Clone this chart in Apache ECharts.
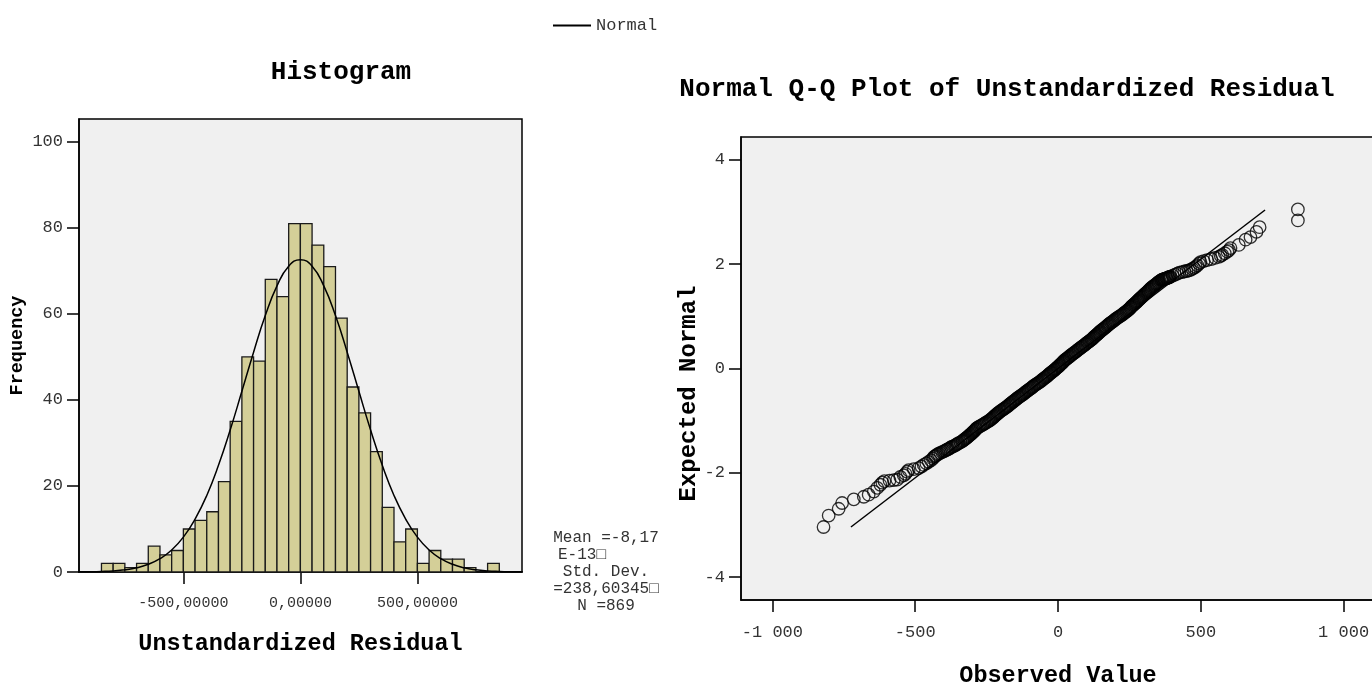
<!DOCTYPE html>
<html>
<head>
<meta charset="utf-8">
<script src="https://cdn.jsdelivr.net/npm/echarts@6/dist/echarts.min.js"></script>
<style>
  html, body { margin: 0; padding: 0; background: #fff; }
  #chart { width: 1372px; height: 682px; }
</style>
</head>
<body>
<div id="chart"></div>
<script>
// histogram bins (width 50) and frequencies
const binStarts = [-850, -800, -750, -700, -650, -600, -550, -500, -450, -400, -350, -300, -250, -200, -150, -100, -50,
  0, 50, 100, 150, 200, 250, 300, 350, 400, 450, 500, 550, 600, 650, 700, 750, 800]
const binCounts = [2, 2, 1, 2, 6, 4, 5, 10, 12, 14, 21, 35, 50, 49, 68, 64, 81,
  81, 76, 71, 59, 43, 37, 28, 15, 7, 10, 2, 5, 3, 3, 1, 0, 2]
const binWidth = 50

// overlaid normal curve, read at every 50 units
const curveX = [-950, -900, -850, -800, -750, -700, -650, -600, -550, -500, -450, -400, -350, -300, -250, -200, -150, -100, -50,
  0, 50, 100, 150, 200, 250, 300, 350, 400, 450, 500, 550, 600, 650, 700, 750, 800, 850, 900, 950]
const curveY = [0.03, 0.06, 0.13, 0.26, 0.52, 0.98, 1.8, 3.1, 5.1, 8.1, 12.3, 17.8, 24.8, 33.0, 42.0, 51.1, 59.6, 66.5, 71.1,
  72.6, 71.1, 66.5, 59.6, 51.1, 42.0, 33.0, 24.8, 17.8, 12.3, 8.1, 5.1, 3.1, 1.8, 0.98, 0.52, 0.26, 0.13, 0.06, 0.03]

const histYTicks = [0, 20, 40, 60, 80, 100]
const histXTicks = [-500, 0, 500]
const statsLines = ['Mean =-8,17', 'E-13\u25A1     ', 'Std. Dev.', '=238,60345\u25A1', 'N =869']

// Q-Q plot: [observed value, expected normal]
const qqPoints = [
  // lower tail
  [-821, -3.04], [-803, -2.82], [-768, -2.69], [-756, -2.58], [-715, -2.51], [-680, -2.46], [-663, -2.42], [-645, -2.36],
  [-633, -2.29], [-622, -2.23], [-615, -2.19], [-608, -2.16], [-590, -2.15], [-575, -2.14], [-563, -2.13], [-552, -2.08],
  [-540, -2.05], [-534, -2.02], [-528, -1.98], [-523, -1.95], [-505, -1.93], [-488, -1.91], [-478, -1.88], [-470, -1.85],
  [-461, -1.82], [-453, -1.79], [-445, -1.76], [-438, -1.73], [-435, -1.70], [-431, -1.685], [-428, -1.67], [-423, -1.65],
  [-418, -1.635], [-412, -1.62], [-406, -1.605], [-400, -1.59], [-395, -1.575], [-390, -1.56], [-387, -1.55], [-383, -1.54],
  [-378, -1.525], [-374, -1.51], [-370, -1.50], [-365, -1.49], [-360, -1.475], [-356, -1.46], [-352, -1.445], [-348, -1.43],
  [-342, -1.415], [-336, -1.40],
  // dense middle
  [-333, -1.385], [-329, -1.37], [-326, -1.355], [-323, -1.34], [-319, -1.325], [-316, -1.31], [-313, -1.295], [-309, -1.28],
  [-306, -1.265], [-303, -1.25], [-300, -1.235], [-298, -1.22], [-295, -1.205], [-292, -1.19], [-289, -1.175], [-287, -1.16],
  [-284, -1.145], [-280, -1.13], [-276, -1.115], [-271, -1.10], [-266, -1.085], [-262, -1.07], [-257, -1.055], [-252, -1.04],
  [-248, -1.025], [-243, -1.01], [-239, -0.995], [-236, -0.98], [-233, -0.965], [-229, -0.95], [-226, -0.935], [-223, -0.92],
  [-220, -0.905], [-217, -0.89], [-214, -0.875], [-211, -0.86], [-208, -0.845], [-204, -0.83], [-200, -0.815], [-196, -0.80],
  [-192, -0.785], [-188, -0.77], [-185, -0.755], [-181, -0.74], [-177, -0.725], [-174, -0.71], [-170, -0.695], [-167, -0.68],
  [-164, -0.665], [-160, -0.65], [-157, -0.635], [-154, -0.62], [-150, -0.605], [-147, -0.59], [-143, -0.575], [-139, -0.56],
  [-136, -0.545], [-132, -0.53], [-128, -0.515], [-124, -0.50], [-121, -0.485], [-117, -0.47], [-113, -0.455], [-110, -0.44],
  [-106, -0.425], [-103, -0.41], [-99, -0.395], [-95, -0.38], [-92, -0.365], [-88, -0.35], [-85, -0.335], [-81, -0.32],
  [-77, -0.305], [-73, -0.29], [-69, -0.275], [-65, -0.26], [-61, -0.245], [-57, -0.23], [-54, -0.215], [-51, -0.20],
  [-47, -0.185], [-44, -0.17], [-40, -0.155], [-37, -0.14], [-34, -0.125], [-31, -0.11], [-27, -0.095], [-24, -0.08],
  [-21, -0.065], [-17, -0.05], [-14, -0.035], [-11, -0.02], [-8, -0.005], [-4, 0.01], [-1, 0.025], [2, 0.04],
  [5, 0.055], [7, 0.07], [10, 0.085], [13, 0.10], [16, 0.115], [19, 0.13], [21, 0.145], [24, 0.16],
  [27, 0.175], [31, 0.19], [34, 0.205], [38, 0.22], [41, 0.235], [45, 0.25], [48, 0.265], [52, 0.28],
  [55, 0.295], [59, 0.31], [62, 0.325], [66, 0.34], [70, 0.355], [73, 0.37], [77, 0.385], [80, 0.40],
  [84, 0.415], [87, 0.43], [91, 0.445], [95, 0.46], [98, 0.475], [102, 0.49], [105, 0.505], [109, 0.52],
  [112, 0.535], [116, 0.55], [119, 0.565], [122, 0.58], [125, 0.595], [128, 0.61], [131, 0.625], [134, 0.64],
  [137, 0.655], [140, 0.67], [143, 0.685], [146, 0.70], [149, 0.715], [153, 0.73], [156, 0.745], [159, 0.76],
  [163, 0.775], [166, 0.79], [169, 0.805], [173, 0.82], [176, 0.835], [179, 0.85], [182, 0.865], [186, 0.88],
  [190, 0.895], [193, 0.91], [197, 0.925], [201, 0.94], [204, 0.955], [208, 0.97], [212, 0.985], [216, 1.00],
  [220, 1.015], [224, 1.03], [228, 1.045], [231, 1.06], [235, 1.075], [239, 1.09], [242, 1.105], [245, 1.12],
  [248, 1.135], [251, 1.15], [254, 1.165], [256, 1.18], [259, 1.195], [262, 1.21], [265, 1.225], [268, 1.24],
  [271, 1.255], [274, 1.27], [277, 1.285], [280, 1.30], [283, 1.315], [285, 1.33], [288, 1.345], [291, 1.36],
  [294, 1.375], [297, 1.39], [300, 1.405], [303, 1.42], [306, 1.435], [309, 1.45], [312, 1.465], [315, 1.48],
  [317, 1.495], [320, 1.51], [323, 1.525], [326, 1.54], [329, 1.555], [332, 1.57], [336, 1.585], [339, 1.60],
  [343, 1.615], [346, 1.63], [350, 1.645], [353, 1.66], [357, 1.675], [361, 1.69], [363, 1.70], [366, 1.705],
  [368, 1.71], [371, 1.715], [373, 1.72], [376, 1.725], [379, 1.73], [381, 1.735], [384, 1.74], [386, 1.745],
  [389, 1.75], [391, 1.755], [394, 1.76],
  // upper tail
  [402, 1.78], [410, 1.80], [418, 1.82], [425, 1.84], [434, 1.85], [442, 1.86], [450, 1.87], [458, 1.88],
  [464, 1.89], [470, 1.91], [476, 1.93], [482, 1.95], [488, 1.98], [494, 2.01], [499, 2.04], [510, 2.06],
  [522, 2.08], [537, 2.10], [550, 2.12], [563, 2.14], [570, 2.16], [575, 2.18], [584, 2.21], [593, 2.24],
  [599, 2.27], [604, 2.31], [633, 2.37], [657, 2.47], [674, 2.52], [695, 2.62], [706, 2.71], [840, 2.84], [840, 3.05]
]
const qqLine = [[-725, -3.04], [725, 3.04]]
const qqXTicks = [-1000, -500, 0, 500, 1000]
const qqYTicks = [-4, -2, 0, 2, 4]

const mono = "'Courier New', 'Liberation Mono', monospace"
const chart = echarts.init(document.getElementById('chart'))

const tickStyle = { show: true, inside: false, length: 12, lineStyle: { color: '#000', width: 1.5 } }
const lineStyle = { show: true, onZero: false, lineStyle: { color: '#000', width: 1.5 } }
const fmtHist = v => (v === 0 ? '0,00000' : v.toFixed(5).replace('.', ','))
const fmtQQ = v => (Math.abs(v) >= 1000 ? (v < 0 ? '-' : '') + '1 000' : String(v))

chart.setOption({
  animation: false,
  textStyle: { fontFamily: mono },
  title: [
    { text: 'Histogram', left: 336, top: 54, textAlign: 'center', textStyle: { fontFamily: mono, fontSize: 26, fontWeight: 'bold', color: '#000' } },
    { text: 'Normal Q-Q Plot of Unstandardized Residual', left: 1002, top: 71, textAlign: 'center', textStyle: { fontFamily: mono, fontSize: 26, fontWeight: 'bold', color: '#000' } },
  ],
  legend: {
    data: ['Normal'], left: 548, top: 12, icon: 'rect', itemWidth: 38, itemHeight: 2, itemGap: 6,
    textStyle: { fontFamily: mono, fontSize: 17, color: '#333' },
  },
  grid: [
    { left: 79, top: 119, width: 443, height: 453, outerBoundsMode: 'none', show: true, backgroundColor: '#f0f0f0', borderColor: '#000', borderWidth: 1.5 },
    { left: 741, top: 137, width: 634, height: 463, outerBoundsMode: 'none', show: true, backgroundColor: '#f0f0f0', borderColor: '#000', borderWidth: 1.5 },
  ],
  xAxis: [
    {
      gridIndex: 0, type: 'value', min: -946, max: 947,
      name: 'Unstandardized Residual', nameLocation: 'middle', nameGap: 60,
      nameTextStyle: { fontFamily: mono, fontSize: 23.5, fontWeight: 'bold', color: '#000' },
      axisLine: lineStyle, axisTick: { ...tickStyle, customValues: histXTicks },
      axisLabel: { customValues: histXTicks, formatter: fmtHist, margin: 24, fontSize: 15, color: '#333', fontFamily: mono },
      splitLine: { show: false },
    },
    {
      gridIndex: 1, type: 'value', min: -1110, max: 1110,
      name: 'Observed Value', nameLocation: 'middle', nameGap: 64,
      nameTextStyle: { fontFamily: mono, fontSize: 23.5, fontWeight: 'bold', color: '#000' },
      axisLine: lineStyle, axisTick: { ...tickStyle, customValues: qqXTicks },
      axisLabel: { customValues: qqXTicks, formatter: fmtQQ, margin: 24, fontSize: 17, color: '#333', fontFamily: mono },
      splitLine: { show: false },
    },
  ],
  yAxis: [
    {
      gridIndex: 0, type: 'value', min: 0, max: 105.3,
      name: 'Frequency', nameLocation: 'middle', nameGap: 52,
      nameTextStyle: { fontFamily: mono, fontSize: 18.5, fontWeight: 'bold', color: '#000' },
      axisLine: lineStyle, axisTick: { ...tickStyle, customValues: histYTicks },
      axisLabel: { customValues: histYTicks, margin: 16, fontSize: 17, color: '#333', fontFamily: mono },
      splitLine: { show: false },
    },
    {
      gridIndex: 1, type: 'value', min: -4.44, max: 4.44,
      name: 'Expected Normal', nameLocation: 'middle', nameGap: 38,
      nameTextStyle: { fontFamily: mono, fontSize: 24, fontWeight: 'bold', color: '#000', padding: [0, 50, 0, 0] },
      axisLine: lineStyle, axisTick: { ...tickStyle, customValues: qqYTicks },
      axisLabel: { customValues: qqYTicks, margin: 16, fontSize: 17, color: '#333', fontFamily: mono },
      splitLine: { show: false },
    },
  ],
  graphic: [
    {
      type: 'text', x: 606, y: 529, z: 10,
      style: { text: statsLines.join('\n'), fontFamily: mono, fontSize: 16, lineHeight: 17, fill: '#333', align: 'center', verticalAlign: 'top' },
    },
  ],
  series: [
    {
      name: 'bins', type: 'custom', xAxisIndex: 0, yAxisIndex: 0,
      data: binStarts.map((s, i) => [s, s + binWidth, binCounts[i]]),
      renderItem: (params, api) => {
        if (api.value(2) <= 0) return
        const p0 = api.coord([api.value(0), api.value(2)])
        const p1 = api.coord([api.value(1), 0])
        return {
          type: 'rect',
          shape: { x: p0[0], y: p0[1], width: p1[0] - p0[0], height: p1[1] - p0[1] },
          style: { fill: '#d4cf98', stroke: '#1a1a1a', lineWidth: 1.3 },
        }
      },
    },
    {
      name: 'Normal', type: 'line', xAxisIndex: 0, yAxisIndex: 0, smooth: true, symbol: 'none', clip: true,
      data: curveX.map((x, i) => [x, curveY[i]]),
      itemStyle: { color: '#000' }, lineStyle: { color: '#000', width: 1.5 }, z: 5,
    },
    {
      name: 'qq', type: 'scatter', xAxisIndex: 1, yAxisIndex: 1, data: qqPoints,
      symbol: 'circle', symbolSize: 12.5,
      itemStyle: { color: 'rgba(0,0,0,0)', borderColor: '#000', borderWidth: 1.3 },
    },
    {
      name: 'qqline', type: 'line', xAxisIndex: 1, yAxisIndex: 1, data: qqLine, symbol: 'none',
      lineStyle: { color: '#000', width: 1.5 },
    },
  ],
})
</script>
</body>
</html>
